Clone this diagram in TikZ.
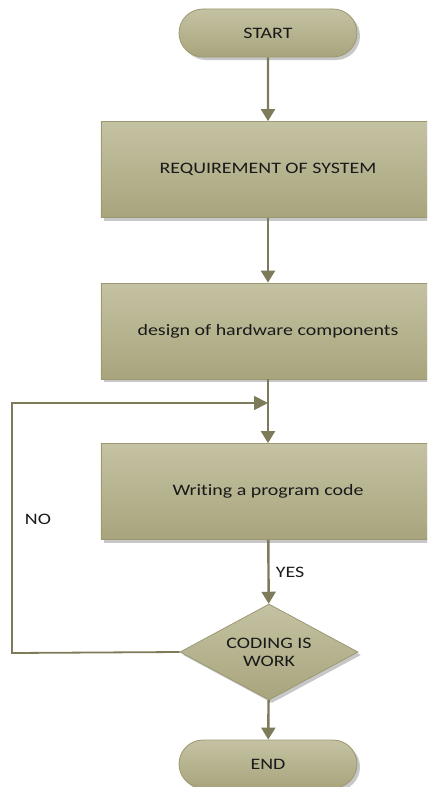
\documentclass[tikz,border=0pt]{standalone}
\usepackage{fontspec}
\setmainfont{Carlito}[Ligatures=NoCommon]
\usetikzlibrary{shapes.geometric,shapes.misc,arrows.meta,shadows}
\definecolor{topc}{HTML}{C4C2A2}
\definecolor{botc}{HTML}{A8A57D}
\definecolor{edgec}{HTML}{9C9872}
\definecolor{linec}{HTML}{7E7B5A}
\newcommand{\wtxt}[1]{\scalebox{1.25}[1]{#1}}
\tikzset{
  base/.style={draw=edgec, line width=0.8bp, top color=topc, bottom color=botc,
    drop shadow={shadow xshift=3bp, shadow yshift=-3bp, fill=black!22, opacity=1},
    font=\fontsize{16}{18}\selectfont, align=center, inner sep=0pt, text=black!90},
  term/.style={base, rounded rectangle, minimum width=178bp, minimum height=48bp},
  proc/.style={base, rectangle, minimum width=334bp, minimum height=96bp},
  deci/.style={base, diamond, aspect=1.85, minimum width=178bp, minimum height=96bp},
  flow/.style={draw=linec, line width=2.4bp, -{Triangle[width=14bp,length=12bp]}},
  loopl/.style={draw=linec, line width=1.8bp},
  lbl/.style={font=\fontsize{16}{18}\selectfont, inner sep=0pt, text=black!90}
}
\begin{document}
\begin{tikzpicture}[x=1bp,y=-1bp]
\useasboundingbox (0,0) rectangle (427,787);
\clip (0,0) rectangle (427,787);
\node[term] (start) at (268,33) {\wtxt{START}};
\node[proc] (req) at (268,169.5) {\wtxt{REQUIREMENT OF SYSTEM}};
\node[proc] (hw) at (268,331) {\wtxt{design of hardware components}};
\node[proc] (code) at (268,491.5) {\wtxt{Writing a program code}};
\node[deci] (dec) at (269,652) {\wtxt{CODING IS}\\\wtxt{WORK}};
\node[term] (end) at (268,764) {\wtxt{END}};
\coordinate (join) at (268,403);
\coordinate (ll) at (12,653);
\coordinate (lu) at (12,403);
\draw[flow] (start) -- (req);
\draw[flow] (req) -- (hw);
\draw[flow] (hw) -- (code);
\draw[loopl, -{Triangle[width=14bp,length=14bp]}] (dec.west) -- (ll) -- (lu) -- (join);
\draw[flow] (code) -- (dec);
\draw[flow] (dec) -- (end);
\node[lbl] (no) at (38,519) {\wtxt{NO}};
\node[lbl] (yes) at (290,572) {\wtxt{YES}};
\end{tikzpicture}
\end{document}
